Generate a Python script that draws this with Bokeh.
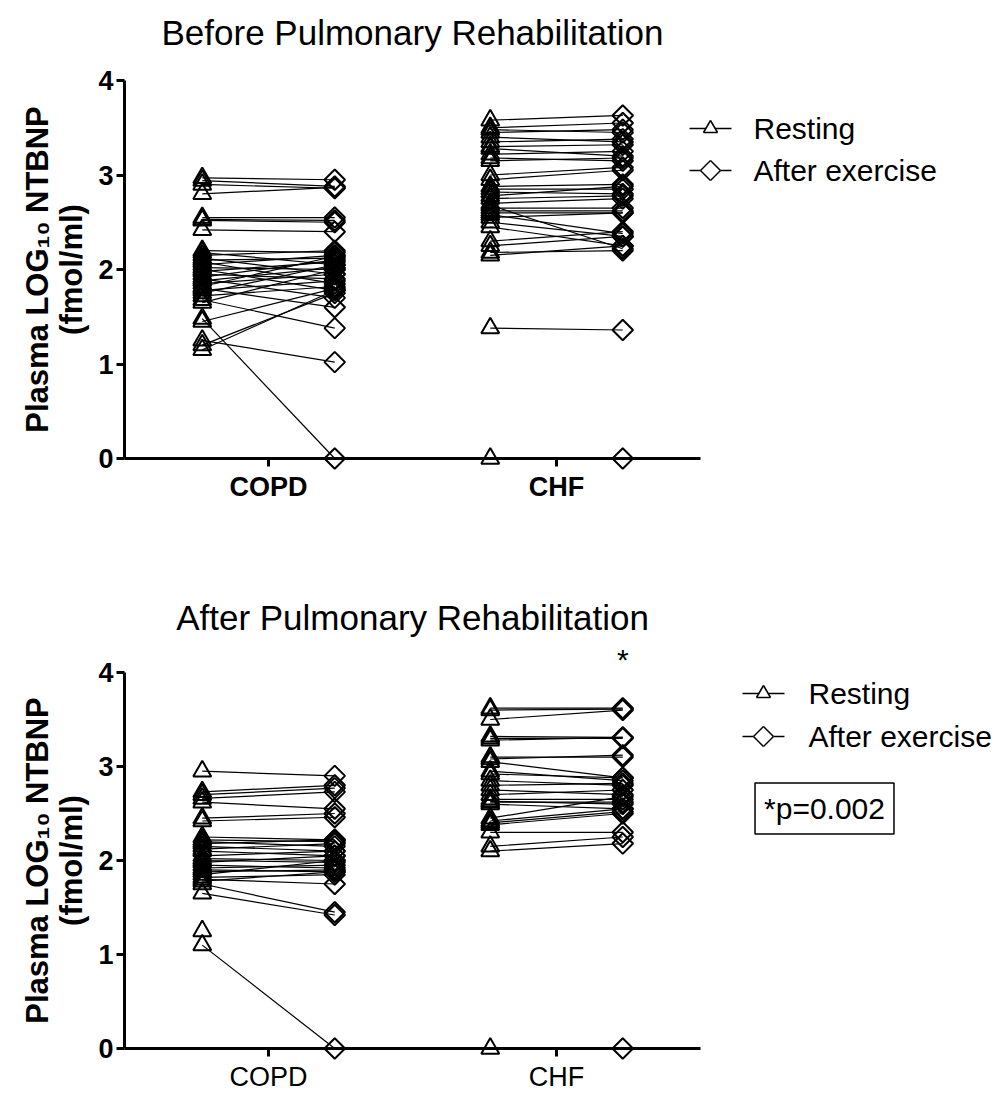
import math
from bokeh.plotting import figure
from bokeh.models import FixedTicker
from bokeh.core.properties import value
from bokeh.layouts import column
from bokeh.embed import file_html
from bokeh.resources import INLINE

categories = ["COPD", "CHF"]
series_labels = ["Resting", "After exercise"]
titles = ["Before Pulmonary Rehabilitation", "After Pulmonary Rehabilitation"]
y_ticks = [0, 1, 2, 3, 4]
y_label_lines = ["Plasma LOG\u2081\u2080 NTBNP", "(fmol/ml)"]
star_text = "*"
p_value_text = "*p=0.002"

before_copd_resting = [2.97, 2.94, 2.90, 2.80, 2.55, 2.53, 2.52, 2.42, 2.20, 2.18, 2.15, 2.12,
                       2.10, 2.08, 2.05, 2.02, 2.00, 1.98, 1.95, 1.92, 1.90, 1.88, 1.85, 1.82,
                       1.80, 1.78, 1.75, 1.72, 1.68, 1.65, 1.48, 1.45, 1.25, 1.20, 1.15]
before_copd_exercise = [2.95, 2.88, 2.86, 2.87, 2.55, 2.52, 2.50, 2.40, 2.18, 2.05, 2.20, 1.95,
                        2.12, 1.85, 2.15, 2.00, 1.78, 2.08, 1.90, 2.10, 1.70, 2.02, 1.95, 2.14,
                        1.60, 1.88, 2.05, 1.82, 1.38, 2.00, 0.0, 1.80, 1.02, 1.75, 1.78]
before_chf_resting = [3.58, 3.50, 3.48, 3.45, 3.40, 3.35, 3.30, 3.28, 3.22, 3.18, 3.15, 3.00,
                      2.95, 2.88, 2.85, 2.82, 2.78, 2.75, 2.70, 2.68, 2.65, 2.62, 2.60, 2.58,
                      2.55, 2.50, 2.45, 2.30, 2.25, 2.18, 2.15, 1.38, 0.0]
before_chf_exercise = [3.63, 3.55, 3.45, 3.48, 3.35, 3.38, 3.32, 3.20, 3.25, 3.15, 3.18, 3.08,
                       3.05, 2.90, 2.85, 2.80, 2.88, 2.78, 2.75, 2.22, 2.65, 2.62, 2.60, 2.38,
                       2.60, 2.35, 2.25, 2.40, 2.35, 2.20, 2.25, 1.36, 0.0]

after_copd_resting = [2.95, 2.73, 2.70, 2.66, 2.62, 2.45, 2.42, 2.25, 2.22, 2.20, 2.18, 2.15,
                      2.12, 2.10, 2.05, 2.02, 2.00, 1.98, 1.95, 1.92, 1.90, 1.88, 1.85, 1.82,
                      1.80, 1.78, 1.75, 1.65, 1.25, 1.10]
after_copd_exercise = [2.90, 2.80, 2.77, 2.73, 2.55, 2.50, 2.46, 2.22, 2.20, 2.15, 2.22, 2.10,
                       2.18, 2.05, 2.10, 2.00, 1.98, 2.05, 1.92, 1.95, 1.88, 1.90, 2.00, 1.85,
                       1.75, 1.88, 1.45, 1.42, float("nan"), 0.0]
after_chf_resting = [3.62, 3.60, 3.50, 3.32, 3.30, 3.28, 3.10, 3.08, 3.05, 2.95, 2.92, 2.85,
                     2.80, 2.75, 2.70, 2.65, 2.63, 2.62, 2.60, 2.45, 2.42, 2.40, 2.38, 2.30,
                     2.15, 2.10, 0.0]
after_chf_exercise = [3.62, 3.61, 3.60, 3.31, 3.30, 3.31, 3.10, 3.12, 2.88, 2.85, 2.88, 2.80,
                      2.82, 2.70, 2.75, 2.65, 2.60, 2.62, 2.55, 2.68, 2.55, 2.52, 2.50, 2.30,
                      2.25, 2.18, 0.0]

FONT = "Liberation Sans"
OFF = 0.23
W = 1000
X_START, X_END = 0.5, 2.5
Y_START, Y_END = 0, 4
FRAME_LEFT, FRAME_RIGHT = 124, 700


def make_panel(title, resting, exercise, bold_x, top_b, height, bottom_b,
               title_off, legend_px, legend_rows, with_note):
    frame_h = height - top_b - bottom_b
    frame_w = FRAME_RIGHT - FRAME_LEFT

    # helpers: pixel offsets (relative to the frame's top-left) -> data coordinates
    def dx(px):
        return X_START + (X_END - X_START) * px / frame_w

    def dy(py):
        return Y_END - (Y_END - Y_START) * py / frame_h

    p = figure(width=W, height=height, x_range=(X_START, X_END), y_range=(Y_START, Y_END),
               output_backend="svg", toolbar_location=None,
               min_border_left=FRAME_LEFT, min_border_right=W - FRAME_RIGHT,
               min_border_top=top_b, min_border_bottom=bottom_b)
    p.outline_line_color = None
    p.grid.visible = False
    p.background_fill_color = "white"

    xs_r, ys_r, xs_e, ys_e, mxs, mys = [], [], [], [], [], []
    for ci, cat in enumerate(categories):
        xc = ci + 1
        for r, e in zip(resting[ci], exercise[ci]):
            xs_r.append(xc - OFF); ys_r.append(r)
            if not math.isnan(e):
                xs_e.append(xc + OFF); ys_e.append(e)
                mxs.append([xc - OFF, xc + OFF]); mys.append([r, e])

    p.multi_line(mxs, mys, line_color="black", line_width=1.2, level="overlay")
    p.scatter(xs_r, ys_r, marker="triangle", size=18, fill_color=None,
              line_color="black", line_width=2, level="overlay")
    p.scatter(xs_e, ys_e, marker="square", angle=math.pi / 4, size=14.5,
              fill_color=None, line_color="black", line_width=2, level="overlay")

    # axes
    p.xaxis.ticker = FixedTicker(ticks=[i + 1 for i in range(len(categories))])
    p.xaxis.major_label_overrides = {i + 1: c for i, c in enumerate(categories)}
    p.yaxis.ticker = FixedTicker(ticks=y_ticks)
    for ax in (p.xaxis, p.yaxis):
        ax.axis_line_width = 3
        ax.axis_line_color = "black"
        ax.major_tick_line_width = 3
        ax.major_tick_line_color = "black"
        ax.major_tick_out = 8
        ax.major_tick_in = 0
        ax.minor_tick_line_color = None
        ax.major_label_text_font = FONT
        ax.major_label_text_color = "black"
    p.yaxis.major_label_text_font_size = "27px"
    p.yaxis.major_label_text_font_style = "bold"
    p.yaxis.major_label_standoff = 3
    p.xaxis.major_label_text_font_size = "27px"
    p.xaxis.major_label_text_font_style = "bold" if bold_x else "normal"
    p.xaxis.major_label_standoff = 5

    # title
    p.text(x=[(X_START + X_END) / 2], y=[Y_END], text=[title], y_offset=-title_off,
           text_font=value(FONT), text_font_size="35px", text_align="center",
           text_baseline="middle", text_color="black", level="overlay")
    # y-axis label (two lines)
    p.text(x=[X_START, X_START], y=[2, 2], text=y_label_lines, x_offset=[-87, -53],
           angle=math.pi / 2, text_font=value(FONT), text_font_size="31px",
           text_font_style="bold", text_align="center", text_baseline="middle",
           text_color="black", level="overlay")

    # legend keys (line + open marker outline) and labels
    lx0, lx1, ltx = legend_px
    cx = (lx0 + lx1) / 2
    r0, r1 = legend_rows
    # triangle key (row 0) and diamond key (row 1), in pixel offsets from the frame
    tri_pts = [(cx - 7, r0 + 4), (cx + 7, r0 + 4), (cx, r0 - 8)]
    dia_pts = [(cx, r1 - 10), (cx + 10, r1), (cx, r1 + 10), (cx - 10, r1)]
    segs = [((lx0, r0), (cx - 4.7, r0)), ((cx + 4.7, r0), (lx1, r0)),
            ((lx0, r1), (cx - 10, r1)), ((cx + 10, r1), (lx1, r1))]
    for pts in (tri_pts, dia_pts):
        for i in range(len(pts)):
            segs.append((pts[i], pts[(i + 1) % len(pts)]))
    p.segment(x0=[dx(a[0]) for a, b in segs], y0=[dy(a[1]) for a, b in segs],
              x1=[dx(b[0]) for a, b in segs], y1=[dy(b[1]) for a, b in segs],
              line_color="black", line_width=1.5, level="overlay")
    p.text(x=[dx(ltx)] * 2, y=[dy(r0), dy(r1)], text=series_labels, text_font=value(FONT),
           text_font_size="30px", text_align="left", text_baseline="middle",
           text_color="black", level="overlay")

    if with_note:
        p.text(x=[2 + OFF], y=[Y_END], text=[star_text], y_offset=-13, text_font=value(FONT),
               text_font_size="30px", text_align="center", text_baseline="alphabetic",
               text_color="black", level="overlay")
        p.text(x=[X_END], y=[Y_END], text=[p_value_text], x_offset=124, y_offset=136,
               text_font=value(FONT), text_font_size="30px", text_align="center",
               text_baseline="middle", text_color="black", border_line_color="black",
               border_line_width=1.5, padding=9, level="overlay")
    return p


top = make_panel(titles[0], [before_copd_resting, before_chf_resting],
                 [before_copd_exercise, before_chf_exercise], True,
                 80, 530, 72, 48, (565, 607, 629), (48, 90), False)
bottom = make_panel(titles[1], [after_copd_resting, after_chf_resting],
                    [after_copd_exercise, after_chf_exercise], False,
                    142, 565, 47, 55, (618, 660, 684), (21, 64), True)

layout = column(top, bottom, spacing=0)
open("out.html", "w").write(file_html(layout, INLINE))
